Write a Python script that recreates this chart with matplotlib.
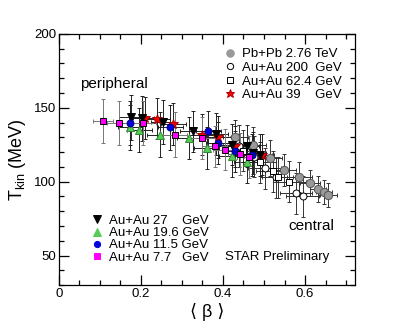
import matplotlib
matplotlib.use("Agg")
import matplotlib.pyplot as plt
from matplotlib.lines import Line2D
from matplotlib.ticker import MultipleLocator

plt.rcParams["font.family"] = ["Liberation Sans", "DejaVu Sans"]
plt.rcParams["mathtext.fontset"] = "custom"
plt.rcParams["mathtext.rm"] = "Liberation Sans"
plt.rcParams["mathtext.it"] = "Liberation Sans:italic"

# <beta>, T_kin (MeV) and errors per system
pbpb_beta = [0.43, 0.474, 0.515, 0.549, 0.586, 0.612, 0.632, 0.646, 0.657]
pbpb_t = [130, 125, 116, 108, 103, 99, 95, 93, 91]
pbpb_xerr = [0.03, 0.03, 0.03, 0.03, 0.03, 0.025, 0.02, 0.02, 0.02]
pbpb_yerr = [12, 12, 12, 11, 10, 9, 9, 8, 8]

au200_beta = [0.44, 0.475, 0.502, 0.53, 0.578, 0.594]
au200_t = [124, 117, 109, 103, 92, 90]
au200_xerr = [0.04, 0.04, 0.04, 0.04, 0.04, 0.04]
au200_yerr = [14, 14, 14, 14, 14, 14]

au62_beta = [0.45, 0.49, 0.521, 0.535, 0.562]
au62_t = [121, 113, 107, 103, 100]
au62_xerr = [0.04, 0.04, 0.04, 0.04, 0.04]
au62_yerr = [14, 14, 14, 14, 14]

au39_beta = [0.21, 0.24, 0.279, 0.348, 0.389, 0.429, 0.494]
au39_t = [143, 142.6, 139, 131.8, 130.2, 123.9, 118.2]
au39_xerr = [0.03, 0.03, 0.03, 0.03, 0.03, 0.03, 0.03]
au39_yerr = [14, 14, 14, 14, 14, 14, 14]

au27_beta = [0.176, 0.202, 0.254, 0.326, 0.383, 0.421, 0.458, 0.474, 0.49]
au27_t = [143.5, 142.8, 140.3, 134, 132.2, 125, 124, 119.4, 118]
au27_xerr = [0.03, 0.03, 0.03, 0.03, 0.03, 0.03, 0.03, 0.03, 0.03]
au27_yerr = [15, 15, 15, 14, 14, 14, 14, 14, 14]

au19_beta = [0.173, 0.196, 0.246, 0.317, 0.360, 0.421, 0.458]
au19_t = [136.7, 135.1, 131.8, 129.5, 122.8, 117.1, 113.1]
au19_xerr = [0.03, 0.03, 0.03, 0.03, 0.03, 0.03, 0.03]
au19_yerr = [15, 15, 15, 14, 14, 14, 14]

au11_beta = [0.173, 0.272, 0.364, 0.389, 0.429, 0.47]
au11_t = [139.7, 136.7, 134, 126.1, 120.5, 118]
au11_xerr = [0.03, 0.03, 0.03, 0.03, 0.03, 0.03]
au11_yerr = [15, 15, 14, 14, 14, 14]

au7_beta = [0.107, 0.147, 0.206, 0.283, 0.350, 0.380, 0.405, 0.442, 0.463]
au7_t = [140.8, 139.6, 139.6, 131.8, 129.5, 123.9, 121.6, 118.7, 116.7]
au7_xerr = [0.025, 0.03, 0.03, 0.03, 0.03, 0.03, 0.03, 0.03, 0.03]
au7_yerr = [15, 15, 15, 15, 14, 14, 14, 14, 14]

# label, x, y, xerr, yerr, marker, face, edge, size, error colour, legend colour
series = [
    ("Pb+Pb 2.76 TeV", pbpb_beta, pbpb_t, pbpb_xerr, pbpb_yerr, "o", "#999999", "#555555", 6, "#333333", "#999999"),
    ("Au+Au 200  GeV", au200_beta, au200_t, au200_xerr, au200_yerr, "o", "white", "black", 5, "#333333", "black"),
    ("Au+Au 62.4 GeV", au62_beta, au62_t, au62_xerr, au62_yerr, "s", "white", "black", 4.5, "#333333", "black"),
    ("Au+Au 39    GeV", au39_beta, au39_t, au39_xerr, au39_yerr, "*", "red", "#aa0000", 7, "#222222", "#aa0000"),
    ("Au+Au 27    GeV", au27_beta, au27_t, au27_xerr, au27_yerr, "v", "black", "black", 6, "#222222", "black"),
    ("Au+Au 19.6 GeV", au19_beta, au19_t, au19_xerr, au19_yerr, "^", "#55cc55", "#338833", 6, "#222222", "#55cc55"),
    ("Au+Au 11.5 GeV", au11_beta, au11_t, au11_xerr, au11_yerr, "o", "#0000dd", "#000088", 5, "#222222", "#0000dd"),
    ("Au+Au 7.7   GeV", au7_beta, au7_t, au7_xerr, au7_yerr, "s", "#ff00ff", "black", 5, "#777777", "#ff00ff"),
]

fig = plt.figure(figsize=(3.95, 3.35), dpi=100)
ax = fig.add_axes([0.149, 0.149, 0.75, 0.75])

handles = {}
for label, bx, ty, xe, ye, mk, fc, ec, ms, errc, legc in series:
    ax.errorbar(bx, ty, xerr=xe, yerr=ye, fmt="none", ecolor=errc, elinewidth=0.7,
                capsize=1.5, capthick=0.7, zorder=2)
    ax.plot(bx, ty, linestyle="none", marker=mk, markersize=ms, markerfacecolor=fc,
            markeredgecolor=ec, markeredgewidth=0.7, zorder=3)
    handles[label] = Line2D([], [], linestyle="none", marker=mk, markersize=ms * 0.9,
                            markerfacecolor=fc, markeredgecolor=legc,
                            markeredgewidth=0.7)

ax.set_xlim(0, 0.722)
ax.set_ylim(30, 200)
ax.xaxis.set_major_locator(MultipleLocator(0.2))
ax.xaxis.set_minor_locator(MultipleLocator(0.05))
ax.yaxis.set_major_locator(MultipleLocator(50))
ax.yaxis.set_minor_locator(MultipleLocator(10))
ax.set_xticks([0, 0.2, 0.4, 0.6])
ax.set_xticklabels(["0", "0.2", "0.4", "0.6"])
ax.tick_params(which="both", direction="in", top=True, right=True, labelsize=9.5, pad=2)
ax.tick_params(which="major", length=7, width=0.9)
ax.tick_params(which="minor", length=3.5, width=0.9)
for sp in ax.spines.values():
    sp.set_linewidth(0.9)

ax.set_xlabel("⟨ β ⟩", fontsize=13, labelpad=2)
ax.set_ylabel(r"T$_{\rm kin}$ (MeV)", fontsize=13, labelpad=4)

top_labels = [s[0] for s in series[:4]]
leg1 = ax.legend([handles[l] for l in top_labels], top_labels, loc="upper left",
                 bbox_to_anchor=(0.557, 0.943), frameon=False, fontsize=9.5,
                 handlelength=1.0, handletextpad=0.4, labelspacing=0.1,
                 borderpad=0, borderaxespad=0)
ax.add_artist(leg1)
bot_labels = [s[0] for s in series[4:]]
ax.legend([handles[l] for l in bot_labels], bot_labels, loc="upper left",
          bbox_to_anchor=(0.107, 0.28), frameon=False, fontsize=9.5,
          handlelength=1.0, handletextpad=0.4, labelspacing=0.0,
          borderpad=0, borderaxespad=0)

ax.text(0.07, 0.785, "peripheral", transform=ax.transAxes, fontsize=11)
ax.text(0.775, 0.22, "central", transform=ax.transAxes, fontsize=11)
ax.text(0.56, 0.10, "STAR Preliminary", transform=ax.transAxes, fontsize=9.5)

fig.savefig("out.png", dpi=100)
